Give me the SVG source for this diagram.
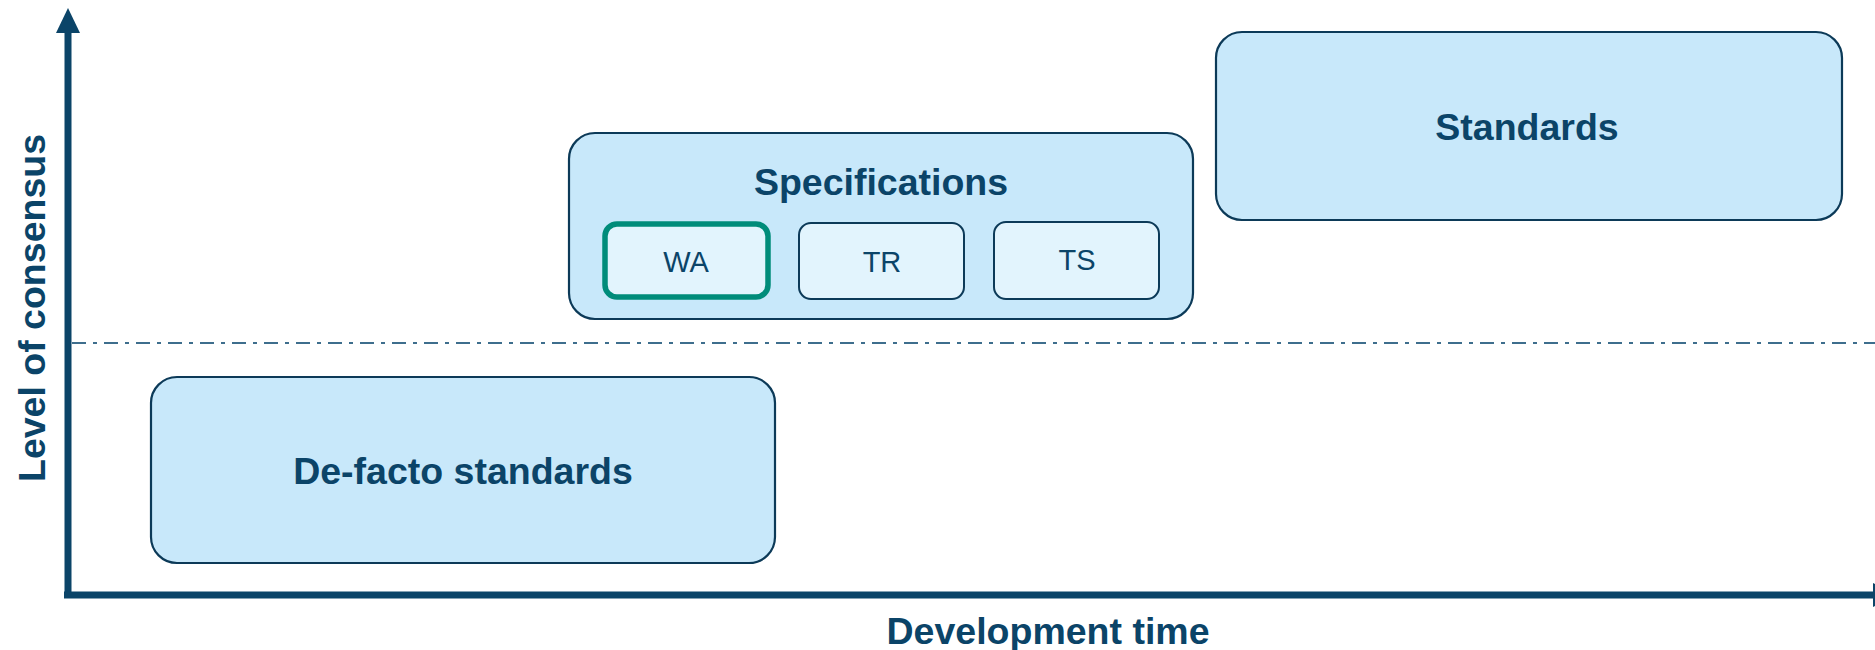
<svg xmlns="http://www.w3.org/2000/svg" width="1875" height="650" viewBox="0 0 1875 650">
<defs>
<style>
.box{fill:#c8e8fa;stroke:#0c3a58;stroke-width:2.2}
.sub{fill:#e2f4fd;stroke:#0c3a58;stroke-width:2}
.wa{fill:#e2f4fd;stroke:#008c7a;stroke-width:5.5}
.t{font-family:"Liberation Sans",Arial,sans-serif;fill:#0b4468;text-anchor:middle}
.b{font-weight:bold;font-size:37.5px}
.r{font-size:29px}
.axis{stroke:#0b4468;stroke-width:7;fill:none}
</style>
</defs>
<g id="connectors">
<line class="axis" x1="68" y1="595" x2="68" y2="30"/>
<polygon points="68,8 56,33 80,33" fill="#0b4468"/>
<line class="axis" x1="64" y1="595" x2="1875" y2="595"/>
<polygon points="1899,595 1873,583 1873,607" fill="#0b4468"/>
<line x1="72" y1="343" x2="1875" y2="343" stroke="#3e6e8d" stroke-width="2.2" stroke-dasharray="14 7 4 7"/>
</g>
<g id="ylabel"><text class="t b" transform="translate(45,308) rotate(-90)">Level of consensus</text></g>
<g id="xlabel"><text class="t b" x="1048" y="644">Development time</text></g>
<g id="defacto">
<rect class="box" x="151" y="377" width="624" height="186" rx="26"/>
<text class="t b" x="463" y="484">De-facto standards</text>
</g>
<g id="specifications">
<rect class="box" x="569" y="133" width="624" height="186" rx="26"/>
<text class="t b" x="881" y="195">Specifications</text>
</g>
<g id="wa">
<rect class="wa" x="605" y="224" width="163" height="73" rx="12"/>
<text class="t r" x="686" y="272">WA</text>
</g>
<g id="tr">
<rect class="sub" x="799" y="223" width="165" height="76" rx="12"/>
<text class="t r" x="882" y="272">TR</text>
</g>
<g id="ts">
<rect class="sub" x="994" y="222" width="165" height="77" rx="12"/>
<text class="t r" x="1077" y="270">TS</text>
</g>
<g id="standards">
<rect class="box" x="1216" y="32" width="626" height="188" rx="26"/>
<text class="t b" x="1527" y="140">Standards</text>
</g>
</svg>
